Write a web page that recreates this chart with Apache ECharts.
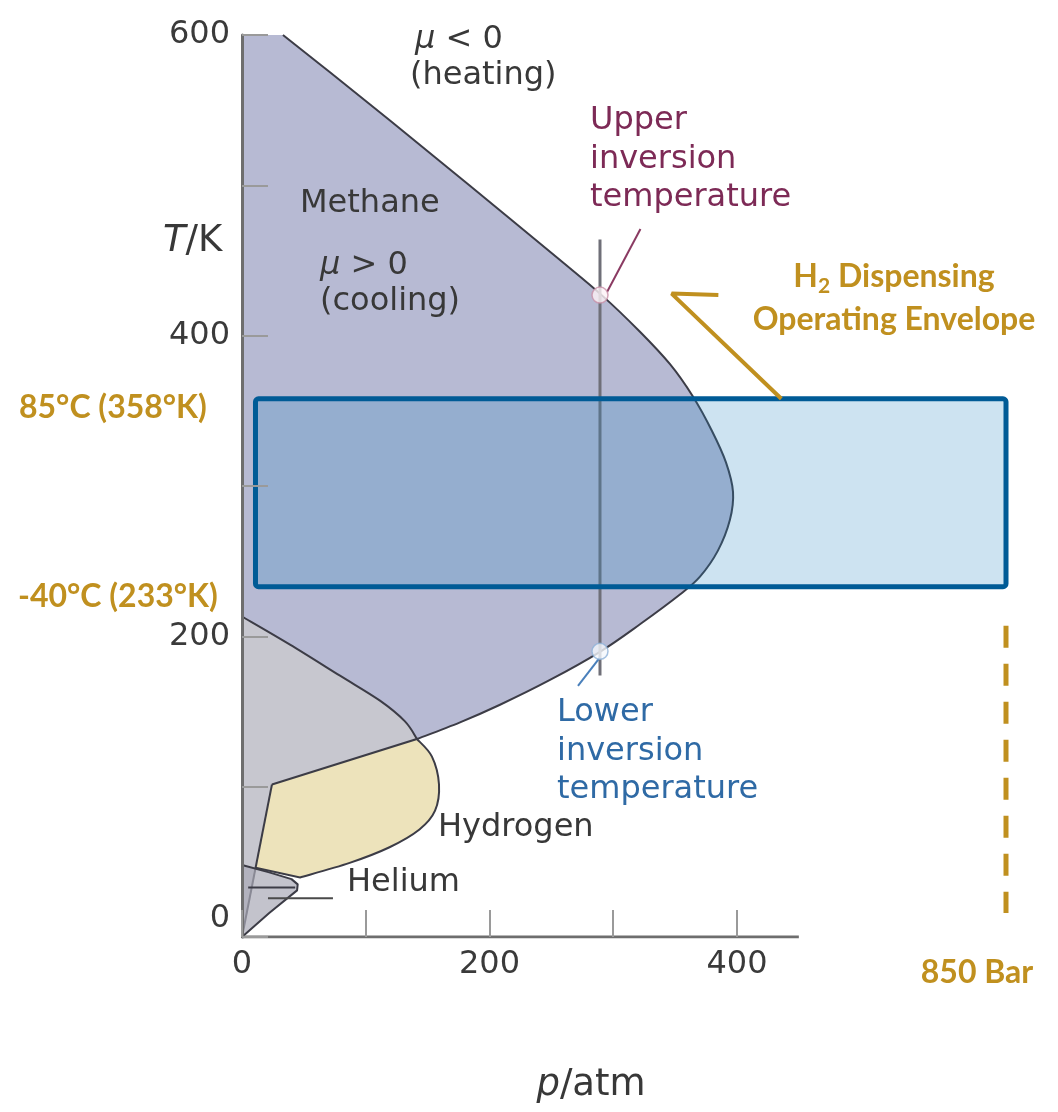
<!DOCTYPE html>
<html>
<head>
<meta charset="utf-8">
<script src="https://cdn.jsdelivr.net/npm/echarts@6/dist/echarts.min.js"></script>
<style>
  html, body { margin: 0; padding: 0; background: #ffffff; }
  #chart { width: 1058px; height: 1112px; }
</style>
</head>
<body>
<div id="chart"></div>
<script>
// Joule-Thomson inversion curves, points as [p / atm, T / K]
const methaneCurve = [[33.1, 600], [71.1, 575.2], [119.6, 543.1], [168.1, 510.5], [216.6, 477.8],
  [257, 450.3], [290.9, 426.8], [321.6, 402.6], [345.9, 381], [364.4, 359.5], [379.8, 336.6],
  [391.1, 315.7], [396.8, 296], [394.3, 277.5], [384.6, 257], [370.1, 239.7], [353.9, 227.8],
  [321.6, 208], [289.3, 189.7], [248.9, 171], [208.5, 154.5], [176.2, 142.8], [141.4, 131.7]];
const hydrogenUpper = [[0, 213.2], [38.8, 194.5], [79.2, 173.8], [111.5, 157.2], [131.7, 143.4], [141.4, 131.7]];
const hydrogenNose = [[141.4, 131.7], [153.5, 120], [159.2, 101.4], [156, 84], [143.4, 71.5], [119.2, 59.7], [87, 49.3], [46.9, 39.6]];
const hydrogenFoot = [[46.9, 39.6], [11, 46]];
const hydrogenEdge = [[24.2, 101.4], [141.4, 131.7]];
const hydrogenLeft = [[24.2, 101.4], [0, 0]];
const heliumCurve = [[0, 47.9], [22, 43], [40, 38.5], [45, 35], [44.5, 31], [22, 16], [0, 0]];
const heliumLine = [[5, 33], [43, 33]];
const heliumPointer = [[21, 25.7], [73.5, 25.7]];

// Isobar through the two inversion temperatures of methane
const isobar = [[289.3, 464], [289.3, 174]];
const inversionPoints = [[289.3, 427], [289.3, 190]];
const upperPointer = [[295, 429], [322, 471]];
const lowerPointer = [[289.3, 186], [271.5, 167]];

// Hydrogen dispensing operating envelope, pressure in bar, temperature in K
const envelopeP = [15, 850];
const envelopeT = [233, 358];
const maxPressureLine = [[850, 207], [850, 16]];
const envelopePointer = [[600, 358], [478, 428], [530, 427]];

// Axis ticks and labels
const pTicks = [0, 100, 200, 300, 400];
const pLabels = [0, 200, 400];
const tLabels = [0, 200, 400, 600];
const pAxisLine = [[0, 0], [450, 0]];

const pMax = 617.4;   // atm at the right edge of the plot area
const barMax = 850;   // bar at the right edge of the plot area

const FIG_FONT = '"DejaVu Sans", sans-serif';
const GOLD = '#c0901f';
const INK = '#383838';
const EDGE = '#3c3c46';

// SVG path through screen points; smooth pieces use Catmull-Rom segments
function toPath(pieces, close) {
  let d = '';
  pieces.forEach(function (pc, k) {
    const P = pc.pts;
    d += (k === 0 ? 'M' : 'L') + P[0][0] + ' ' + P[0][1];
    if (pc.smooth && P.length > 2) {
      for (let i = 0; i < P.length - 1; i++) {
        const p0 = P[i - 1] || P[i], p1 = P[i], p2 = P[i + 1], p3 = P[i + 2] || P[i + 1];
        const c1 = [p1[0] + (p2[0] - p0[0]) / 6, p1[1] + (p2[1] - p0[1]) / 6];
        const c2 = [p2[0] - (p3[0] - p1[0]) / 6, p2[1] - (p3[1] - p1[1]) / 6];
        d += 'C' + c1[0] + ' ' + c1[1] + ' ' + c2[0] + ' ' + c2[1] + ' ' + p2[0] + ' ' + p2[1];
      }
    } else {
      for (let i = 1; i < P.length; i++) d += 'L' + P[i][0] + ' ' + P[i][1];
    }
  });
  return close ? d + 'Z' : d;
}

function px(api, pts) { return pts.map(function (p) { return api.coord(p); }); }
function rev(a) { return a.slice().reverse(); }

function fillEl(d, color) {
  return { type: 'path', shape: { pathData: d }, style: { fill: color, stroke: null } };
}
function strokeEl(d) {
  return { type: 'path', shape: { pathData: d }, style: { fill: null, stroke: EDGE, lineWidth: 2 } };
}

function renderMethane(params, api) {
  if (params.dataIndex !== 0) return null;
  const curve = px(api, methaneCurve);
  const h = px(api, rev(hydrogenUpper));
  const corner = api.coord([0, 600]);
  const fill = toPath([{ pts: [corner, curve[0]] }, { pts: curve, smooth: true }, { pts: h, smooth: true }], true);
  return { type: 'group', children: [fillEl(fill, '#b7bad3'), strokeEl(toPath([{ pts: curve, smooth: true }], false))] };
}

function renderHydrogen(params, api) {
  if (params.dataIndex !== 0) return null;
  const upper = px(api, hydrogenUpper);
  const nose = px(api, hydrogenNose);
  const foot = px(api, hydrogenFoot);
  const edge = px(api, hydrogenEdge);
  const left = px(api, hydrogenLeft);
  const grey = toPath([{ pts: upper, smooth: true }, { pts: rev(edge) }, { pts: left }], true);
  const yellow = toPath([{ pts: edge }, { pts: nose, smooth: true }, { pts: foot }, { pts: [foot[1], edge[0]] }], true);
  return {
    type: 'group',
    children: [
      fillEl(grey, '#c7c7cf'),
      fillEl(yellow, '#ede3bb'),
      strokeEl(toPath([{ pts: upper, smooth: true }], false)),
      strokeEl(toPath([{ pts: edge }, { pts: nose, smooth: true }, { pts: foot }], false)),
      strokeEl(toPath([{ pts: left }], false))
    ]
  };
}

function renderHelium(params, api) {
  if (params.dataIndex !== 0) return null;
  const c = px(api, heliumCurve);
  const l = px(api, heliumLine);
  return {
    type: 'group',
    children: [
      { type: 'path', shape: { pathData: toPath([{ pts: c }], true) },
        style: { fill: 'rgba(170,170,182,0.7)', stroke: EDGE, lineWidth: 2, lineJoin: 'round' } },
      strokeEl(toPath([{ pts: l }], false))
    ]
  };
}

function renderEnvelope(params, api) {
  const a = api.coord([api.value(0), api.value(3)]);
  const b = api.coord([api.value(2), api.value(1)]);
  return {
    type: 'rect',
    shape: { x: a[0], y: a[1], width: b[0] - a[0], height: b[1] - a[1], r: 3 },
    style: { fill: 'rgba(40,135,195,0.23)', stroke: '#005b96', lineWidth: 5 }
  };
}

function lineSeries(name, data, color, width, extra) {
  return Object.assign({
    name: name, type: 'line', data: data, symbol: 'none', silent: true, z: 4,
    lineStyle: { color: color, width: width }
  }, extra || {});
}

const chart = echarts.init(document.getElementById('chart'), null, { renderer: 'canvas' });

const figText = function (text, x, y, color, align, size) {
  const fs = size || 32;
  return {
    type: 'text', x: x, y: y, silent: true, z: 100,
    style: {
      text: text, fill: color || INK, font: fs + 'px ' + FIG_FONT,
      textAlign: align || 'left', textVerticalAlign: 'middle',
      rich: {
        i: { fontStyle: 'italic', fontSize: fs, fontFamily: 'DejaVu Sans', fill: color || INK, color: color || INK }
      }
    }
  };
};
const goldText = function (text, x, y, align) {
  return {
    type: 'text', x: x, y: y, silent: true, z: 100,
    style: {
      text: text, fill: GOLD, font: 'bold 32px Lato, sans-serif',
      textAlign: align || 'left', textVerticalAlign: 'middle',
      rich: {
        b: { fontWeight: 'bold', fontSize: 32, fontFamily: 'Lato', color: GOLD, lineHeight: 40 },
        s: { fontWeight: 'bold', fontSize: 21, fontFamily: 'Lato', color: GOLD, lineHeight: 18, verticalAlign: 'bottom' }
      }
    }
  };
};

chart.setOption({
  animation: false,
  backgroundColor: '#ffffff',
  grid: { left: 242, top: 35, width: 764, height: 902, containLabel: false },
  xAxis: [
    {
      type: 'value', min: 0, max: pMax, z: 10,
      axisLine: { show: false },
      axisTick: { show: true, inside: true, length: 27, customValues: pTicks, lineStyle: { color: '#9a9a9a', width: 2 } },
      axisLabel: { show: true, customValues: pLabels, margin: 12, fontSize: 32, fontFamily: 'DejaVu Sans', color: '#3a3a3a' },
      splitLine: { show: false }
    },
    { type: 'value', min: 0, max: barMax, show: false }
  ],
  yAxis: {
    type: 'value', min: 0, max: 600, interval: 100, z: 10,
    axisLine: { show: true, lineStyle: { color: '#6e6e6e', width: 3 } },
    axisTick: { show: true, inside: true, length: 26, lineStyle: { color: '#9a9a9a', width: 2 } },
    axisLabel: {
      margin: 12, fontSize: 32, fontFamily: 'DejaVu Sans', color: '#3a3a3a',
      showMinLabel: true, showMaxLabel: true,
      formatter: function (v) {
        if (v === 0) return '{z|0}';
        return tLabels.indexOf(v) >= 0 ? String(v) : '';
      },
      rich: { z: { fontSize: 32, fontFamily: 'DejaVu Sans', color: '#3a3a3a', padding: [0, 0, 36, 0] } }
    },
    splitLine: { show: false }
  },
  series: [
    { name: 'Methane', type: 'custom', xAxisIndex: 0, data: methaneCurve, renderItem: renderMethane, silent: true, z: 2, clip: false },
    { name: 'Hydrogen', type: 'custom', xAxisIndex: 0, data: hydrogenUpper, renderItem: renderHydrogen, silent: true, z: 2, clip: false },
    { name: 'Helium', type: 'custom', xAxisIndex: 0, data: heliumCurve, renderItem: renderHelium, silent: true, z: 2, clip: false },
    lineSeries('p axis', pAxisLine, '#6e6e6e', 3, { z: 9 }),
    lineSeries('Helium pointer', heliumPointer, '#4a4a4a', 2),
    lineSeries('Isobar', isobar, '#6f6f78', 3),
    lineSeries('Upper pointer', upperPointer, '#8a3a62', 2),
    lineSeries('Lower pointer', lowerPointer, '#4a80bb', 2),
    {
      name: 'Inversion temperatures', type: 'scatter', data: [
        { value: inversionPoints[0], itemStyle: { color: '#fcf2f6', borderColor: '#c890a8', borderWidth: 1.5 } },
        { value: inversionPoints[1], itemStyle: { color: '#f4f8fd', borderColor: '#8fb2d8', borderWidth: 1.5 } }
      ], symbolSize: 16, silent: true, z: 5
    },
    {
      name: 'Operating envelope', type: 'custom', xAxisIndex: 1, silent: true, z: 6, clip: false,
      data: [[envelopeP[0], envelopeT[0], envelopeP[1], envelopeT[1]]],
      renderItem: renderEnvelope
    },
    lineSeries('850 bar', maxPressureLine, GOLD, 5, { xAxisIndex: 1, z: 6, lineStyle: { color: GOLD, width: 5, type: [22, 16] } }),
    lineSeries('Envelope pointer', envelopePointer, GOLD, 4, { xAxisIndex: 1, z: 7 })
  ],
  graphic: [
    figText('{i|T}/K', 163, 241, INK, 'left', 37),
    figText('{i|p}/atm', 591, 1085, INK, 'center', 37),
    figText('{i|μ} < 0', 415, 40),
    figText('(heating)', 410, 76),
    figText('Methane', 300, 204),
    figText('{i|μ} > 0', 320, 266),
    figText('(cooling)', 320, 302),
    figText('Upper', 590, 121, '#7d2a56'),
    figText('inversion', 590, 160, '#7d2a56'),
    figText('temperature', 590, 198, '#7d2a56'),
    figText('Lower', 557, 713, '#2f6aa5'),
    figText('inversion', 557, 752, '#2f6aa5'),
    figText('temperature', 557, 790, '#2f6aa5'),
    figText('Hydrogen', 438, 828),
    figText('Helium', 347, 883),
    goldText('85°C (358°K)', 19, 408),
    goldText('-40°C (233°K)', 18, 597),
    goldText('{b|H}{s|2}{b| Dispensing}', 894, 277, 'center'),
    goldText('Operating Envelope', 894, 320, 'center'),
    goldText('850 Bar', 977, 973, 'center')
  ]
});
</script>
</body>
</html>
